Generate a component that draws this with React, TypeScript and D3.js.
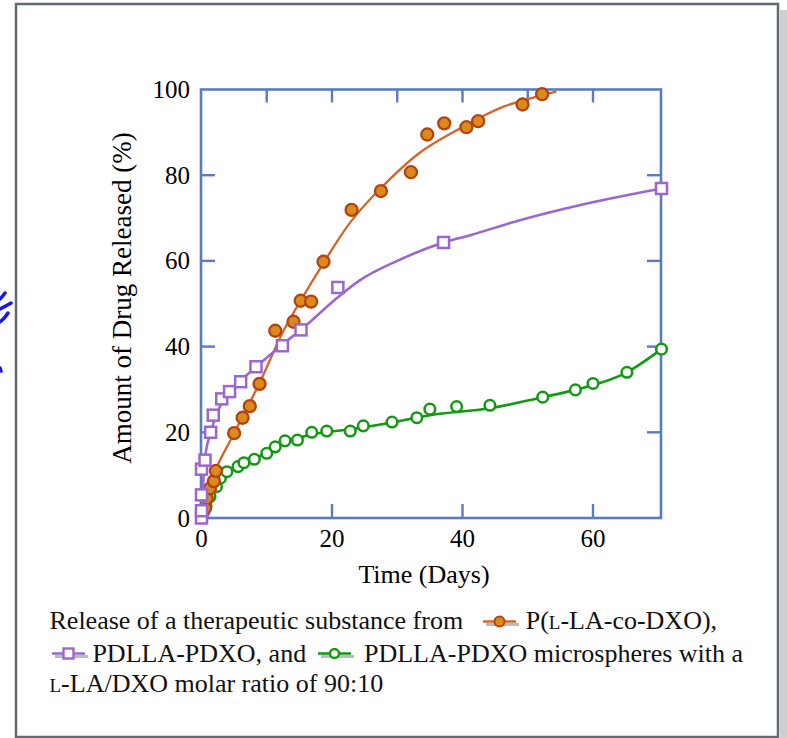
import React from "react";
import * as d3 from "d3";

// ---- Data ----
const orangeDays = [0.23, 0.54, 0.8, 1.3, 1.9, 2.2, 5.0, 6.3, 7.4, 8.9, 11.3, 14.1, 15.2, 16.8, 18.7, 23.0, 27.5, 32.1, 34.6, 37.2, 40.6, 42.4, 49.2, 52.2];
const orangeRelease = [1.4, 2.3, 4.6, 6.9, 8.6, 11.0, 19.8, 23.4, 26.1, 31.3, 43.7, 45.8, 50.7, 50.5, 59.8, 71.9, 76.3, 80.7, 89.5, 92.1, 91.2, 92.6, 96.5, 98.9];
const orangeFitDays = [0, 2.1, 4.9, 8.9, 12.5, 15.1, 18.7, 22.8, 27.5, 33.5, 40.1, 46.3, 54.4];
const orangeFitRelease = [0, 11, 19.5, 31.5, 43.5, 50.5, 59.5, 69, 77, 85.3, 91.3, 96, 99.5];

const purpleDays = [0, 0, 0, 0, 0.54, 1.4, 1.8, 3.1, 4.3, 6.0, 8.35, 12.4, 15.25, 20.9, 37.1, 70.5];
const purpleRelease = [0, 1.7, 5.4, 11.4, 13.5, 20.0, 24.0, 27.8, 29.5, 31.8, 35.3, 40.2, 43.9, 53.8, 64.3, 76.9];
const purpleFitDays = [0, 0.5, 1.4, 3.1, 6.0, 8.4, 12.4, 15.3, 20.9, 24.3, 30, 37.1, 41.2, 48.8, 59.1, 70.5];
const purpleFitRelease = [0, 13.5, 20, 27, 32, 35.3, 40.5, 44, 51.5, 55.5, 60, 64.3, 66, 69.5, 73.4, 76.9];

const greenDays = [0.7, 1.3, 2.3, 2.9, 3.9, 5.6, 6.5, 8.1, 10.0, 11.3, 12.8, 14.7, 16.9, 19.2, 22.8, 24.8, 29.2, 33.0, 35.0, 39.1, 44.2, 52.3, 57.3, 60.0, 65.2, 70.5];
const greenRelease = [2.8, 5.0, 7.3, 9.3, 10.8, 12.0, 12.9, 13.7, 15.1, 16.6, 18.0, 18.2, 20.0, 20.3, 20.3, 21.5, 22.4, 23.4, 25.4, 26.0, 26.3, 28.2, 29.9, 31.4, 34.0, 39.4];
const greenFitDays = [0, 0.7, 1.3, 2.3, 3.9, 6.5, 10, 12.8, 16.9, 22.8, 29.2, 35, 44.2, 52.3, 57.3, 65.2, 70.5];
const greenFitRelease = [0, 2.8, 5, 7.5, 10.6, 12.8, 15.2, 17.6, 19.5, 20.7, 22.3, 24, 25.6, 28.2, 29.9, 34, 39.4];

const yTicks = [0, 20, 40, 60, 80, 100];
const xTickLabels = [0, 20, 40, 60];
const topMinorTicks = [10, 20, 30, 40, 50, 60];
const sideTicks = [20, 40, 60, 80];

const xTitle = "Time (Days)";
const yTitle = "Amount of Drug Released (%)";

// ---- Styles ----
const FRAME = "#5a7cbf";
const ORANGE_LINE = "#d4642c";
const ORANGE_FILL = "#dc8a1c";
const ORANGE_STROKE = "#b2440f";
const PURPLE = "#9b66d0";
const GREEN = "#119a11";
const SERIF = "'Liberation Serif', 'Times New Roman', serif";

const x = d3.scaleLinear().domain([0, 70.5]).range([201.5, 661.5]);
const y = d3.scaleLinear().domain([0, 100]).range([518, 89.5]);
const X0 = 201, X1 = 661, Y0 = 518, Y1 = 89.5;

const pairs = (a: number[], b: number[]) => a.map((v, i) => [v, b[i]] as [number, number]);
const lineMono = d3
  .line<[number, number]>()
  .x((d) => x(d[0]))
  .y((d) => y(d[1]))
  .curve(d3.curveMonotoneX);
const lineSmooth = d3
  .line<[number, number]>()
  .x((d) => x(d[0]))
  .y((d) => y(d[1]))
  .curve(d3.curveCatmullRom.alpha(0.5));

function Icon({ x0, cy, kind }: { x0: number; cy: number; kind: "o" | "s" | "g" }) {
  const len = 33;
  const cx = x0 + len / 2;
  const col = kind === "o" ? ORANGE_LINE : kind === "s" ? PURPLE : GREEN;
  return (
    <g>
      <line x1={x0 + 3} x2={x0 + len + 3} y1={cy + 3} y2={cy + 3} stroke="#bbbbbb" strokeWidth={3} />
      <line x1={x0} x2={x0 + len} y1={cy} y2={cy} stroke={col} strokeWidth={2.6} />
      {kind === "o" && <circle cx={cx} cy={cy} r={5} fill={ORANGE_FILL} stroke={ORANGE_STROKE} strokeWidth={2} />}
      {kind === "s" && <rect x={cx - 5} y={cy - 5} width={10} height={10} fill="#fff" stroke={PURPLE} strokeWidth={2.4} />}
      {kind === "g" && <circle cx={cx} cy={cy} r={4.5} fill="#fff" stroke={GREEN} strokeWidth={2.4} />}
    </g>
  );
}

export default function App() {
  const orangePts = pairs(orangeDays, orangeRelease);
  const purplePts = pairs(purpleDays, purpleRelease);
  const greenPts = pairs(greenDays, greenRelease);
  const tl = 14;
  const sq = 11;
  return (
    <svg
      width={787}
      height={738}
      style={{ position: "absolute", left: 0, top: 0, background: "#fff" }}
      fontFamily={SERIF}
    >
      {/* panel shadow and border */}
      <rect x={780} y={10} width={7} height={728} fill="#cfcfcf" />
      <rect x={16} y={4} width={762} height={733} fill="#fff" stroke="#5f6a72" strokeWidth={2.5} />

      {/* blue hand-drawn marks at left edge */}
      <g stroke="#1818e8" strokeWidth={3.5} fill="none" strokeLinecap="round">
        <path d="M0,299 Q3,296 5,293" />
        <path d="M0,309 Q6,306 11,303" />
        <path d="M0,322 Q5,318 8,313" />
        <path d="M0,368 L1,371" />
      </g>

      {/* frame */}
      <rect x={X0} y={Y1} width={X1 - X0} height={Y0 - Y1} fill="none" stroke={FRAME} strokeWidth={2.6} />
      {topMinorTicks.map((t) => (
        <line key={"tt" + t} x1={x(t)} x2={x(t)} y1={Y1} y2={Y1 + 13} stroke={FRAME} strokeWidth={2.4} />
      ))}
      {xTickLabels.filter((t) => t > 0).map((t) => (
        <line key={"bt" + t} x1={x(t)} x2={x(t)} y1={Y0} y2={Y0 - 14} stroke={FRAME} strokeWidth={2.4} />
      ))}
      {sideTicks.map((t) => (
        <g key={"st" + t}>
          <line x1={X0} x2={X0 + tl} y1={y(t)} y2={y(t)} stroke={FRAME} strokeWidth={2.4} />
          <line x1={X1} x2={X1 - tl} y1={y(t)} y2={y(t)} stroke={FRAME} strokeWidth={2.4} />
        </g>
      ))}

      {/* tick labels */}
      {yTicks.map((t) => (
        <text key={"yl" + t} x={190} y={y(t) + 8.5} fontSize={25} textAnchor="end" fill="#000">
          {t}
        </text>
      ))}
      {xTickLabels.map((t) => (
        <text key={"xl" + t} x={x(t)} y={547} fontSize={25} textAnchor="middle" fill="#000">
          {t}
        </text>
      ))}
      <text x={424} y={583} fontSize={26} textAnchor="middle" fill="#000">
        {xTitle}
      </text>
      <text transform="translate(131,298) rotate(-90)" fontSize={27} textAnchor="middle" fill="#000">
        {yTitle}
      </text>

      {/* series: green */}
      <path d={lineMono(pairs(greenFitDays, greenFitRelease)) || ""} fill="none" stroke={GREEN} strokeWidth={2.6} />
      {greenPts.map((d, i) => (
        <circle key={"g" + i} cx={x(d[0])} cy={y(d[1])} r={5.3} fill="#fff" stroke={GREEN} strokeWidth={2.5} />
      ))}
      {/* series: orange */}
      <path d={lineSmooth(pairs(orangeFitDays, orangeFitRelease)) || ""} fill="none" stroke={ORANGE_LINE} strokeWidth={2.3} />
      {orangePts.map((d, i) => (
        <circle key={"o" + i} cx={x(d[0])} cy={y(d[1])} r={6} fill={ORANGE_FILL} stroke={ORANGE_STROKE} strokeWidth={2.3} />
      ))}
      {/* series: purple */}
      <path d={lineMono(pairs(purpleFitDays, purpleFitRelease)) || ""} fill="none" stroke={PURPLE} strokeWidth={2.6} />
      {purplePts.map((d, i) => (
        <rect key={"p" + i} x={x(d[0]) - sq / 2} y={y(d[1]) - sq / 2} width={sq} height={sq} fill="#fff" stroke={PURPLE} strokeWidth={2.5} />
      ))}

      {/* caption */}
      <g fontSize={26} fill="#111">
        <text x={49.5} y={629}>Release of a therapeutic substance from</text>
        <Icon x0={483} cy={621.5} kind="o" />
        <text x={525.7} y={629}>
          P(<tspan fontSize={19}>L</tspan>-LA-co-DXO),
        </text>
        <Icon x0={52} cy={653.5} kind="s" />
        <text x={92.4} y={662}>PDLLA-PDXO, and</text>
        <Icon x0={318} cy={653.5} kind="g" />
        <text x={364} y={662}>PDLLA-PDXO microspheres with a</text>
        <text x={49.5} y={692}>
          <tspan fontSize={19}>L</tspan>-LA/DXO molar ratio of 90:10
        </text>
      </g>
    </svg>
  );
}
